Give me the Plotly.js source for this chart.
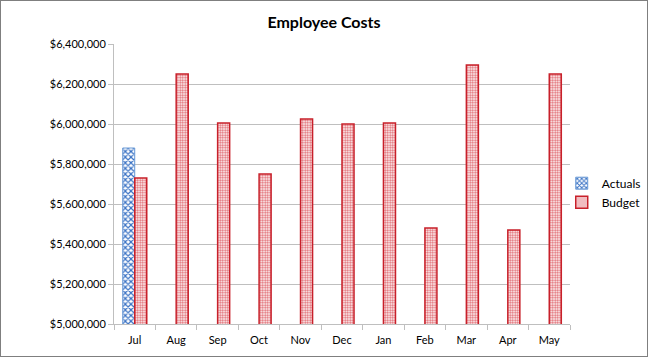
<!DOCTYPE html>
<html><head><meta charset="utf-8">
<script src="https://cdn.plot.ly/plotly-3.0.1.min.js"></script>
<style>html,body{margin:0;padding:0;background:#fff}#c{width:648px;height:357px;box-sizing:border-box;border:1px solid #7f7f7f}</style>
</head><body><div id="c"></div>
<script>
const months = ["Jul","Aug","Sep","Oct","Nov","Dec","Jan","Feb","Mar","Apr","May"];
const actuals = [5880000,null,null,null,null,null,null,null,null,null,null];
const budget = [5730000,6250000,6005000,5750000,6025000,6000000,6005000,5480000,6295000,5470000,6250000];
const font = "Lato, 'Open Sans', sans-serif";
Plotly.newPlot('c',[
 {type:'bar',name:'Actuals',x:months,y:actuals,
  marker:{color:'#ffffff',line:{color:'#6a9ad6',width:1},
   pattern:{shape:'x',fgcolor:'#3a72c4',bgcolor:'#ffffff',size:4,solidity:0.5}}},
 {type:'bar',name:'Budget',x:months,y:budget,
  marker:{color:'#ffffff',line:{color:'#c8202a',width:1.5},
   pattern:{shape:'.',fgcolor:'#e06870',bgcolor:'#ffffff',size:2.5,solidity:0.5}}}
],{
 width:646,height:355,
 margin:{l:113,r:77,t:43,b:32,autoexpand:false},
 paper_bgcolor:'#fff',plot_bgcolor:'#fff',
 title:{text:'<b>Employee Costs</b>',font:{family:font,size:16,color:'#000'},x:0.5,xanchor:'center',y:0.94,yanchor:'middle'},
 barmode:'group',bargap:0.42,bargroupgap:0,
 showlegend:true,
 legend:{xref:'container',yref:'container',x:0.868,y:0.46,yanchor:'middle',xanchor:'left',bgcolor:'rgba(0,0,0,0)',font:{family:font,size:12,color:'#000'},tracegroupgap:10,itemwidth:30},
 xaxis:{showline:true,linecolor:'#bfbfbf',linewidth:1,ticks:'outside',tickson:'boundaries',ticklen:5,tickcolor:'#bfbfbf',
   ticklabelstandoff:6,tickfont:{family:font,size:11,color:'#000'},showgrid:false,fixedrange:true},
 yaxis:{range:[5000000,6400000],dtick:200000,tickformat:'$,.0f',showline:true,linecolor:'#bfbfbf',linewidth:1,
   ticks:'outside',ticklen:5,tickcolor:'#bfbfbf',gridcolor:'#bfbfbf',gridwidth:1,zeroline:false,
   tickfont:{family:font,size:11,color:'#000'},fixedrange:true}
},{displayModeBar:false,staticPlot:true});
</script></body></html>
